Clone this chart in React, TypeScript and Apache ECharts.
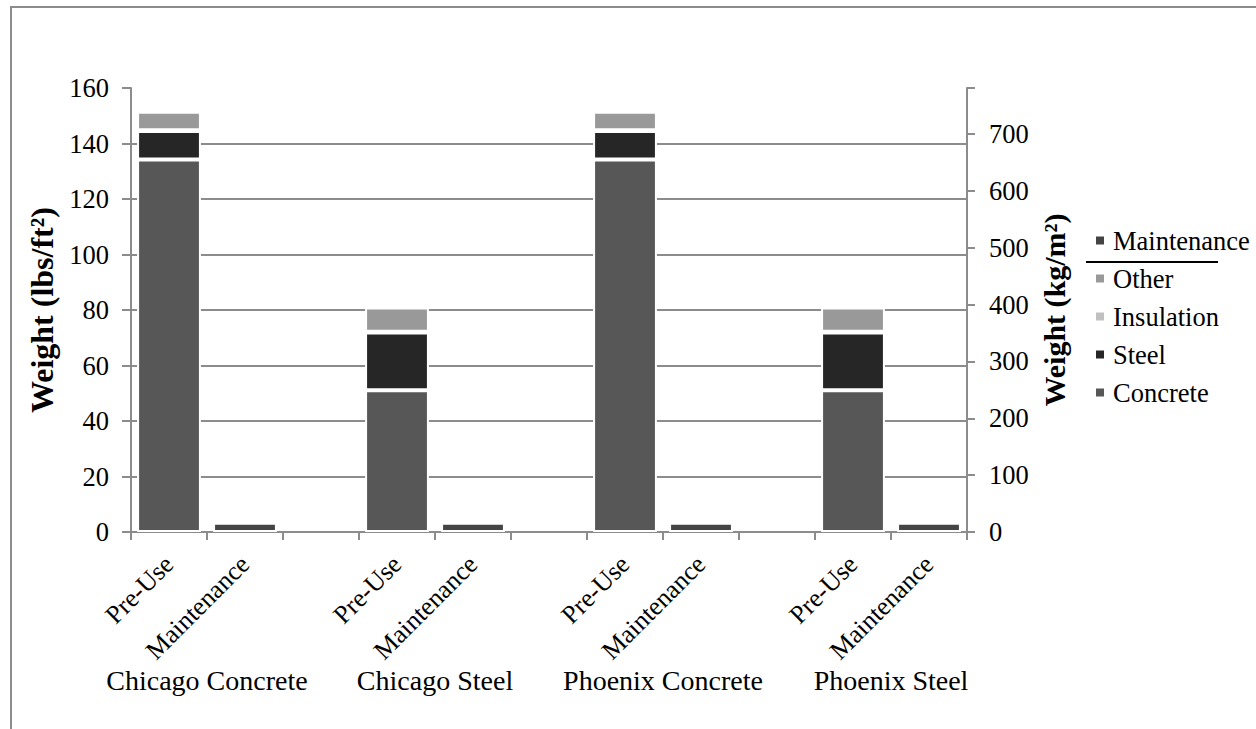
import React, { useEffect, useRef } from "react";
import * as echarts from "echarts";

const categories = ["Pre-Use", "Maintenance", "", "Pre-Use", "Maintenance", "", "Pre-Use", "Maintenance", "", "Pre-Use", "Maintenance"];
const groups = ["Chicago Concrete", "Chicago Steel", "Phoenix Concrete", "Phoenix Steel"];
const groupPositions = [1, 4, 7, 10];
const concrete = [134.2, null, null, 51.1, null, null, 134.2, null, null, 51.1, null];
const steel = [10.3, null, null, 20.8, null, null, 10.3, null, null, 20.8, null];
const insulation = [0.3, null, null, 0.3, null, null, 0.3, null, null, 0.3, null];
const other = [6.6, null, null, 8.7, null, null, 6.6, null, null, 8.7, null];
const maintenance = [null, 3.3, null, null, 3.3, null, null, 3.3, null, null, 3.3];
const leftTicks = { min: 0, max: 160, interval: 20 };
const kgPerLb = 4.8824;

const FONT = "Liberation Serif, Times New Roman, serif";

export default function App() {
  const ref = useRef<HTMLDivElement>(null);
  useEffect(() => {
    document.body.style.margin = "0";
    const chart = echarts.init(ref.current!, undefined, { renderer: "svg" });
    const barBase = {
      type: "bar",
      stack: "total",
      barWidth: "84%",
      itemStyle: { borderColor: "#ffffff", borderWidth: 2 },
    };
    chart.setOption({
      animation: false,
      backgroundColor: "#ffffff",
      textStyle: { fontFamily: FONT },
      grid: { left: 131, right: 289, top: 88, bottom: 197, containLabel: false },
      legend: {
        orient: "vertical",
        left: 1089,
        top: 222,
        itemWidth: 10,
        itemHeight: 10,
        itemGap: 11,
        icon: "rect",
        data: ["Maintenance", "Other", "Insulation", "Steel", "Concrete"],
        textStyle: { fontFamily: FONT, fontSize: 26.5, color: "#000", padding: [0, 0, 0, 3] },
      },
      xAxis: [
        {
          type: "category",
          data: categories,
          boundaryGap: true,
          axisLine: { lineStyle: { color: "#8c8c8c", width: 2 } },
          axisTick: { show: true, interval: 0, length: 8, lineStyle: { color: "#8c8c8c", width: 2 } },
          axisLabel: { interval: 0, rotate: 45, margin: 28, fontSize: 26, color: "#000", fontFamily: FONT },
        },
        {
          type: "value",
          min: 0,
          max: 11,
          position: "bottom",
          offset: 134,
          axisLine: { show: false },
          axisTick: { show: false },
          splitLine: { show: false },
          axisLabel: {
            customValues: groupPositions,
            margin: 0,
            fontSize: 28,
            color: "#000",
            fontFamily: FONT,
            formatter: (v: number) => {
              const i = groupPositions.indexOf(Math.round(v));
              return i >= 0 ? groups[i] : "";
            },
          },
        },
      ],
      yAxis: [
        {
          type: "value",
          min: leftTicks.min,
          max: leftTicks.max,
          interval: leftTicks.interval,
          position: "left",
          name: "Weight (lbs/ft²)",
          nameLocation: "middle",
          nameRotate: 90,
          nameGap: 73,
          nameTextStyle: { fontFamily: FONT, fontSize: 32, fontWeight: "bold", color: "#000" },
          axisLine: { show: true, lineStyle: { color: "#8c8c8c", width: 2 } },
          axisTick: { show: true, length: 9, lineStyle: { color: "#8c8c8c", width: 2 } },
          axisLabel: { margin: 22, fontSize: 26.5, color: "#000", fontFamily: FONT },
          splitLine: { show: true, showMaxLine: false, showMinLine: false, lineStyle: { color: "#8c8c8c", width: 2 } },
        },
        {
          type: "value",
          min: 0,
          max: leftTicks.max * kgPerLb,
          interval: 100,
          position: "right",
          name: "Weight (kg/m²)",
          nameLocation: "middle",
          nameRotate: 90,
          nameGap: 68,
          nameTextStyle: { fontFamily: FONT, fontSize: 30, fontWeight: "bold", color: "#000" },
          axisLine: { show: true, lineStyle: { color: "#8c8c8c", width: 2 } },
          axisTick: { show: true, length: 8, lineStyle: { color: "#8c8c8c", width: 2 } },
          axisLabel: {
            margin: 22,
            fontSize: 26.5,
            color: "#000",
            fontFamily: FONT,
            formatter: (v: number) => (Math.abs(v % 100) < 1e-6 ? String(v) : ""),
          },
          splitLine: { show: false },
        },
      ],
      color: ["#575757", "#262626", "#c0c0c0", "#999999", "#444444"],
      series: [
        { ...barBase, name: "Concrete", data: concrete, itemStyle: { ...barBase.itemStyle, color: "#575757" } },
        { ...barBase, name: "Steel", data: steel, itemStyle: { ...barBase.itemStyle, color: "#262626" } },
        { ...barBase, name: "Insulation", data: insulation, itemStyle: { ...barBase.itemStyle, color: "#c0c0c0" } },
        { ...barBase, name: "Other", data: other, itemStyle: { ...barBase.itemStyle, color: "#999999" } },
        { ...barBase, name: "Maintenance", data: maintenance, itemStyle: { ...barBase.itemStyle, color: "#444444" } },
      ],
      graphic: [
        {
          type: "rect",
          shape: { x: 11, y: 7, width: 1400, height: 900 },
          style: { fill: "none", stroke: "#8c8c8c", lineWidth: 2 },
          silent: true,
          z: -10,
        },
        {
          type: "line",
          shape: { x1: 1086, y1: 262, x2: 1218, y2: 262 },
          style: { stroke: "#000", lineWidth: 2 },
          silent: true,
        },
      ],
    });
    return () => chart.dispose();
  }, []);
  return <div ref={ref} style={{ width: 1256, height: 729 }} />;
}
